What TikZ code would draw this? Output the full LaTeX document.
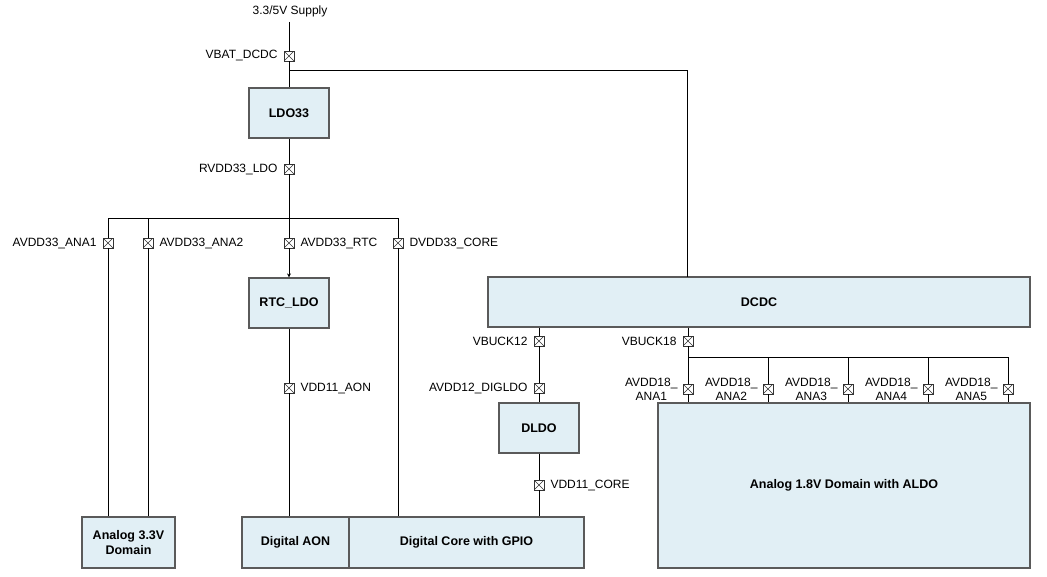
\documentclass[tikz,border=0pt]{standalone}
\usepackage{fontspec}
\setmainfont{Liberation Sans}
\usetikzlibrary{arrows.meta,positioning}
\definecolor{boxfill}{HTML}{E1EFF5}
\definecolor{boxline}{HTML}{5A5A5A}
\begin{document}
\begin{tikzpicture}[x=1pt,y=-1pt,
  every node/.style={font=\fontsize{12}{14}\selectfont},
  blk/.style={draw=boxline,fill=boxfill,line width=1.2pt,inner sep=0pt,
    font=\fontsize{12.5}{15}\selectfont\bfseries,align=center},
  xpin/.style={draw=black!80,fill=white,minimum size=10pt,inner sep=0pt,line width=0.6pt,
    path picture={\draw[black!80,line width=0.6pt] (path picture bounding box.south west) -- (path picture bounding box.north east)
      (path picture bounding box.north west) -- (path picture bounding box.south east);}},
  wire/.style={line width=0.8pt,black},
  lbl/.style={inner sep=0pt}
]
\useasboundingbox (0,0) rectangle (1047,576);
% blocks
\node[blk,minimum width=80pt,minimum height=50pt] (ldo) at (289,113) {LDO33};
\node[blk,minimum width=80pt,minimum height=50pt] (rtc) at (289,303) {RTC\_LDO};
\node[blk,minimum width=542pt,minimum height=50pt] (dcdc) at (759,302) {DCDC};
\node[blk,minimum width=80pt,minimum height=50pt] (dldo) at (539,428) {DLDO};
\node[blk,minimum width=93pt,minimum height=51pt] (a33) at (128.5,542.5) {Analog 3.3V\\Domain};
\node[blk,minimum width=107pt,minimum height=51pt] (aon) at (295.5,542.5) {Digital AON};
\node[blk,minimum width=235pt,minimum height=51pt] (dcore) at (466.5,542.5) {Digital Core with GPIO};
\node[blk,minimum width=372pt,minimum height=165pt] (a18) at (844,485.5) {Analog 1.8V Domain with ALDO};
% supply
\node[lbl] (sup) at (290,11) {3.3/5V Supply};
\node[xpin] (vbat) at (289,56) {};
\node[lbl,left=6pt of vbat] (vbatl) {VBAT\_DCDC};
\coordinate (j1) at (289,70);
\coordinate (dcdcin) at (687,277);
\draw[wire] (sup.south -| vbat) ++(0,5) coordinate (supbot) -- (vbat.north);
\draw[wire] (vbat.south) -- (ldo.north);
\draw[wire] (j1) -| (dcdcin);
% RVDD33
\node[xpin] (rvdd) at (289,169) {};
\node[lbl,left=6pt of rvdd] {RVDD33\_LDO};
\draw[wire] (ldo.south) -- (rvdd.north);
\coordinate (h1) at (289,218);
\draw[wire] (rvdd.south) -- (h1);
\node[xpin] (ana1) at (108,243) {};
\node[xpin] (ana2) at (148,243) {};
\node[xpin] (artc) at (289,243) {};
\node[xpin] (dcore33) at (398,243) {};
\node[lbl,left=6pt of ana1] {AVDD33\_ANA1};
\node[lbl,right=6pt of ana2] {AVDD33\_ANA2};
\node[lbl,right=6pt of artc] {AVDD33\_RTC};
\node[lbl,right=6pt of dcore33] {DVDD33\_CORE};
\draw[wire] (ana1.north) |- (dcore33.north |- h1) -- (dcore33.north);
\draw[wire] (ana2.north) -- (ana2.north |- h1);
\draw[wire] (h1) -- (artc.north);
\draw[wire,-{Stealth[length=4pt,width=4pt]}] (artc.south) -- (rtc.north);
\draw[wire] (ana1.south) -- (ana1.south |- a33.north);
\draw[wire] (ana2.south) -- (ana2.south |- a33.north);
\draw[wire] (dcore33.south) -- (dcore33.south |- dcore.north);
% AON
\node[xpin] (aonp) at (289,388) {};
\node[lbl,right=6pt of aonp] {VDD11\_AON};
\draw[wire] (rtc.south) -- (aonp.north);
\draw[wire] (aonp.south) -- (aonp.south |- aon.north);
% VBUCK12
\node[xpin] (vb12) at (539,341) {};
\node[lbl,left=6pt of vb12] {VBUCK12};
\node[xpin] (dig) at (539,388) {};
\node[lbl,left=6pt of dig] {AVDD12\_DIGLDO};
\node[xpin] (vcore) at (539,485) {};
\node[lbl,right=6pt of vcore] {VDD11\_CORE};
\draw[wire] (vb12.north |- dcdc.south) -- (vb12.north);
\draw[wire] (vb12.south) -- (dig.north);
\draw[wire] (dig.south) -- (dldo.north);
\draw[wire] (dldo.south) -- (vcore.north);
\draw[wire] (vcore.south) -- (vcore.south |- dcore.north);
% VBUCK18
\node[xpin] (vb18) at (688,341) {};
\node[lbl,left=6pt of vb18] {VBUCK18};
\draw[wire] (vb18.north |- dcdc.south) -- (vb18.north);
\coordinate (h2) at (688,357);
\foreach \i/\x in {1/688,2/768,3/848,4/928,5/1008}{
  \node[xpin] (p\i) at (\x,389) {};
  \node[lbl,left=5pt of p\i,align=center,font=\fontsize{12}{14}\selectfont] {AVDD18\_\\ANA\i};
  \draw[wire] (p\i.south) -- (p\i.south |- a18.north);
}
\draw[wire] (vb18.south) -- (p1.north);
\draw[wire] (h2) -- (p5.north |- h2) -- (p5.north);
\foreach \i in {2,3,4}{\draw[wire] (p\i.north |- h2) -- (p\i.north);}
\end{tikzpicture}
\end{document}
